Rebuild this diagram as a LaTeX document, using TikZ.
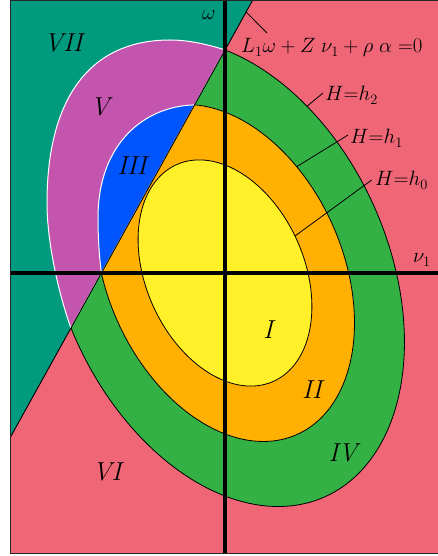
\documentclass[tikz,border=0pt]{standalone}
\usepackage{amsmath}
\definecolor{cpink}{RGB}{239,102,119}
\definecolor{cteal}{RGB}{0,154,127}
\definecolor{cmag}{RGB}{195,85,175}
\definecolor{cblue}{RGB}{0,85,255}
\definecolor{cgreen}{RGB}{51,177,69}
\definecolor{corange}{RGB}{255,176,0}
\definecolor{cyellow}{RGB}{255,240,42}
\begin{document}
\begin{tikzpicture}[x=1pt,y=1pt,
  region/.style={font=\fontsize{26}{30}\selectfont\itshape},
  lab/.style={font=\fontsize{22}{26}\selectfont},
  leader/.style={line width=0.8pt},
  ring/.style={draw=black,line width=0.8pt}]
\useasboundingbox (-225,-283) rectangle (213,273);
% frame corners and the line
\coordinate (FTL) at (-214.5,272.5);
\coordinate (FBL) at (-214.5,-280);
\coordinate (FBR) at (226,-280);
\coordinate (FTR) at (226,272.5);
\coordinate (LT) at (27.5,272.5);
\coordinate (LL) at (-214.5,-164);
% end points of the left curves on the line
\coordinate (M0) at (0,223);
\coordinate (M1) at (-154.1,-54.9);
\coordinate (B0) at (-30.4,168.1);
\coordinate (B1) at (-123.7,0);
% background
\fill[cpink] (FBL) rectangle (FTR);
\fill[cteal] (FTL) -- (LT) -- (LL) -- cycle;
% region V
\path[fill=cmag,draw=white,line width=1pt] (M0) .. controls (-18,229) and (-38,233) .. (-55,233)
  .. controls (-135,233) and (-178,175) .. (-178,70)
  .. controls (-178,30) and (-166,-22) .. (M1) -- cycle;
% region III
\path[fill=cblue,draw=white,line width=1pt] (B0) .. controls (-80,167) and (-127,130) .. (-127,55)
  .. controls (-127,30) and (-125,12) .. (B1) -- cycle;
% level curves right of the line
\begin{scope}
\clip (LT) -- (FTR) -- (FBR) -- (FBL) -- (LL) -- cycle;
\path[ring,fill=cgreen] plot[domain=0:360,samples=181,smooth] ({2.065*86.9*cos(\x)},{2.065*(-33.5*cos(\x)+108*sin(\x))}) -- cycle;
\path[ring,fill=corange] plot[domain=0:360,samples=181,smooth] ({1.49*86.9*cos(\x)},{1.49*(-33.5*cos(\x)+108*sin(\x))}) -- cycle;
\path[ring,fill=cyellow] plot[domain=0:360,samples=181,smooth] ({86.9*cos(\x)},{-33.5*cos(\x)+108*sin(\x)}) -- cycle;
\end{scope}
% the line
\draw[line width=0.9pt] (LT) -- (LL);
% axes
\draw[line width=3.4pt] (-214.5,0) -- (214,0);
\draw[line width=3.4pt] (0,274) -- (0,-280);
% frame
\draw[line width=0.8pt,black!85] (FTR) -- (FTL) -- (FBL) -- (FBR);
% leaders
\coordinate (q0) at (21.1,261);
\coordinate (q1) at (42,240);
\coordinate (a2) at (82,166.7);
\coordinate (b2) at (98,180);
\coordinate (a1) at (71.7,106.3);
\coordinate (b1) at (123,138);
\coordinate (a0) at (70,37);
\coordinate (b0) at (146.7,93);
\draw[leader] (q0) -- (q1);
\draw[leader] (a2) -- (b2);
\draw[leader] (a1) -- (b1);
\draw[leader] (a0) -- (b0);
% labels
\node[lab,anchor=base west,inner sep=0pt] (eq) at (16,220) {$L_1\omega + Z\;\nu_1 + \rho\;\alpha\;{=}0$};
\node[lab,anchor=base west,inner sep=0pt] (h2) at (100,172) {$H{=}h_2$};
\node[lab,anchor=base west,inner sep=0pt] (h1) at (125,129) {$H{=}h_1$};
\node[lab,anchor=base west,inner sep=0pt] (h0) at (150,87) {$H{=}h_0$};
\node[lab,anchor=base west,inner sep=0pt] (om) at (-23,253) {$\omega$};
\node[lab,anchor=base west,inner sep=0pt] (nu) at (188,10) {$\nu_1$};
\node[region] (rVII) at (-161.5,230.5) {VII};
\node[region] (rV) at (-125,166) {V};
\node[region] (rIII) at (-93,107) {III};
\node[region] (rI) at (43,-57) {I};
\node[region] (rII) at (87,-117) {II};
\node[region] (rIV) at (118,-180) {IV};
\node[region] (rVI) at (-118,-199) {VI};
\end{tikzpicture}
\end{document}
